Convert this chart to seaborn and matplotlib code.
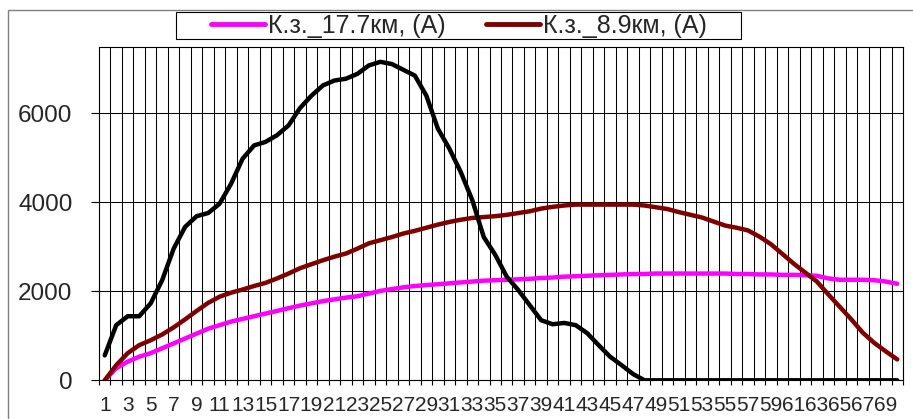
import numpy as np
import matplotlib
matplotlib.use('Agg')
import matplotlib.pyplot as plt
from matplotlib.patches import Rectangle
import seaborn as sns

# ------------------------------------------------------------
# DATA
# ------------------------------------------------------------

categories = list(range(1, 71))

current_17_7km = [
    0, 270, 420, 530, 610, 720, 830, 940, 1050, 1160,
    1240, 1320, 1380, 1440, 1500, 1560, 1620, 1680, 1730, 1780,
    1820, 1860, 1890, 1950, 2010, 2050, 2090, 2120, 2140, 2160,
    2180, 2200, 2220, 2240, 2250, 2260, 2270, 2280, 2300, 2310,
    2330, 2340, 2350, 2360, 2370, 2380, 2390, 2390, 2400, 2400,
    2400, 2400, 2400, 2400, 2400, 2390, 2390, 2380, 2380, 2370,
    2370, 2360, 2350, 2290, 2260, 2260, 2260, 2250, 2220, 2170,
]

current_8_9km = [
    0, 340, 610, 790, 900, 1030, 1190, 1370, 1560, 1740,
    1880, 1970, 2040, 2120, 2190, 2290, 2400, 2520, 2610, 2700,
    2780, 2850, 2960, 3080, 3150, 3220, 3300, 3360, 3430, 3500,
    3560, 3610, 3650, 3670, 3690, 3720, 3760, 3800, 3860, 3900,
    3930, 3950, 3950, 3950, 3950, 3950, 3950, 3930, 3890, 3850,
    3780, 3720, 3660, 3570, 3480, 3430, 3370, 3230, 3060, 2840,
    2620, 2420, 2220, 1930, 1650, 1370, 1070, 840, 650, 470,
]

current_0km = [
    560, 1240, 1440, 1440, 1730, 2250, 2960, 3450, 3690, 3760,
    3970, 4420, 4980, 5280, 5360, 5510, 5730, 6120, 6400, 6630,
    6740, 6780, 6890, 7080, 7160, 7110, 6980, 6850, 6400, 5660,
    5210, 4680, 4050, 3220, 2820, 2330, 2030, 1690, 1350, 1260,
    1290, 1240, 1060, 790, 530, 340, 140, 0, 0, 0,
    0, 0, 0, 0, 0, 0, 0, 0, 0, 0,
    0, 0, 0, 0, 0, 0, 0, 0, 0, 0,
]

label_17_7 = 'К.з._17.7км, (А)'
label_8_9 = 'К.з._8.9км, (А)'
y_ticks = [0, 2000, 4000, 6000]

# ------------------------------------------------------------
# STYLE
# ------------------------------------------------------------

sns.set_style('white')
plt.rcParams['font.family'] = ['Liberation Sans', 'DejaVu Sans']

W, H = 913, 419
fig = plt.figure(figsize=(W / 100, H / 100), dpi=100)
ax = fig.add_axes([99 / W, 1 - 380.3 / H, 804 / W, 333.6 / H])

pos = np.arange(len(categories))

sns.lineplot(x=pos, y=current_17_7km, color='#FF00FF', linewidth=3.2,
             ax=ax, label=label_17_7, zorder=3)
sns.lineplot(x=pos, y=current_8_9km, color='#800000', linewidth=3.2,
             ax=ax, label=label_8_9, zorder=4)
sns.lineplot(x=pos, y=current_0km, color='black', linewidth=3.2,
             ax=ax, label='_nolegend_', zorder=5)

# axes
ax.set_xlim(-0.5, len(categories) - 0.5)
ax.set_ylim(0, 7500)
ax.set_xlabel('')
ax.set_ylabel('')

ax.set_xticks(pos[::2])
ax.set_xticklabels([str(c) for c in categories[::2]], fontsize=15)
ax.set_xticks(np.arange(-0.5, len(categories), 1), minor=True)
ax.tick_params(axis='x', which='major', bottom=True, length=0, pad=11.5)
ax.tick_params(axis='x', which='minor', bottom=True, length=3.5,
               width=0.8, color='black', direction='out')

ax.set_yticks(y_ticks)
ax.set_yticklabels([str(v) for v in y_ticks], fontsize=17.5)
ax.tick_params(axis='y', left=True, length=6, width=0.8, color='black',
               direction='out', pad=13)

ax.grid(axis='x', which='minor', color='black', linewidth=0.75)
ax.grid(axis='y', which='major', color='black', linewidth=0.75)
ax.set_axisbelow(True)

for s in ax.spines.values():
    s.set_color('black')
    s.set_linewidth(0.8)

# legend (black series has no entry in the reference)
handles, labels = ax.get_legend_handles_labels()
leg = ax.legend(handles[:2], labels[:2], ncol=2, frameon=False,
                loc='center left', bbox_to_anchor=(211 / W, 1 - 26 / H),
                bbox_transform=fig.transFigure, borderpad=0, borderaxespad=0,
                fontsize=18, handlelength=2.16, handletextpad=0.13,
                columnspacing=1.6)
for line in leg.get_lines():
    line.set_linewidth(3.5)

fig.patches.append(Rectangle((176 / W, 1 - 39.5 / H), 565 / W, 27.5 / H,
                             transform=fig.transFigure, fill=False,
                             edgecolor='black', linewidth=0.8))

# chart area border
fig.patches.append(Rectangle((8 / W, -0.5), 2, 1.5 - 10 / H,
                             transform=fig.transFigure, fill=False,
                             edgecolor='#808080', linewidth=1.0))

fig.savefig('out.png', dpi=100)
